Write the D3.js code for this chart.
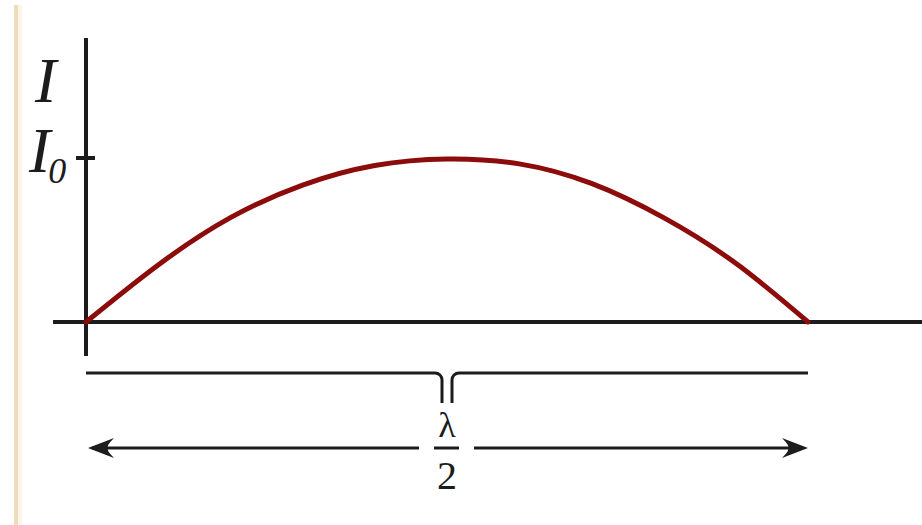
<!DOCTYPE html>
<html>
<head>
<meta charset="utf-8">
<script src="https://cdn.jsdelivr.net/npm/d3@7"></script>
<style>
  html, body { margin: 0; padding: 0; background: #fff; }
  svg { display: block; }
  .serif { font-family: "Liberation Serif", "Times New Roman", "DejaVu Serif", serif; }
</style>
</head>
<body>
<div id="chart"></div>
<script>
// Intensity across half a wavelength
// position as a fraction of λ/2, intensity as a fraction of I0
const positions = [0, 0.1, 0.2, 0.3, 0.4, 0.5, 0.6, 0.7, 0.8, 0.9, 1];
const intensity = [0, 0.35, 0.64, 0.84, 0.96, 1, 0.97, 0.85, 0.64, 0.36, 0];
const yTickValues = [1];
const axisLabel = "I";
const tickLabel = "I";
const tickSub = "0";
const spanTop = "λ";
const spanBottom = "2";

const width = 922;
const height = 525;

const svg = d3.select("#chart")
    .append("svg")
    .attr("width", width)
    .attr("height", height);

// faint tan edge on the left of the scan
svg.append("rect").attr("x", 14).attr("y", 5).attr("width", 4).attr("height", height - 5).attr("fill", "#efdcbc");
svg.append("rect").attr("x", 18).attr("y", 5).attr("width", 4).attr("height", height - 5).attr("fill", "#fbf5ea");

const x = d3.scaleLinear().domain([0, 1]).range([86, 808]);
const y = d3.scaleLinear().domain([0, 1]).range([322, 159]);

const ink = "#1c1c1c";

// x axis (runs to the right edge)
svg.append("line")
    .attr("x1", 53).attr("x2", width)
    .attr("y1", y(0)).attr("y2", y(0))
    .attr("stroke", ink).attr("stroke-width", 4);

// y axis
svg.append("line")
    .attr("x1", x(0)).attr("x2", x(0))
    .attr("y1", 38).attr("y2", 356)
    .attr("stroke", ink).attr("stroke-width", 4);

// I0 tick
yTickValues.forEach(v => {
    svg.append("line")
        .attr("x1", x(0) - 10).attr("x2", x(0) + 9)
        .attr("y1", y(v) - 1).attr("y2", y(v) - 1)
        .attr("stroke", ink).attr("stroke-width", 4);
});

// axis labels
svg.append("text")
    .attr("class", "serif")
    .attr("x", 35).attr("y", 102)
    .attr("font-style", "italic")
    .attr("font-size", 64).attr("fill", ink)
    .text(axisLabel);

const i0 = svg.append("text")
    .attr("class", "serif")
    .attr("x", 29).attr("y", 172)
    .attr("font-style", "italic")
    .attr("font-size", 64).attr("fill", ink);
i0.append("tspan").text(tickLabel);
i0.append("tspan").attr("dx", -2).attr("dy", 11).attr("font-size", 36).text(tickSub);

// intensity curve
const line = d3.line()
    .x((d, i) => x(positions[i]))
    .y(d => y(d))
    .curve(d3.curveNatural);

svg.append("path")
    .attr("d", line(intensity))
    .attr("fill", "none")
    .attr("stroke", "#8c0b0b")
    .attr("stroke-width", 5)
    .attr("stroke-linecap", "round");

// bracket under the axis
const mid = (x(0) + x(1)) / 2;
const bTop = 373, bBot = 403, r = 7;
const bracket = d3.path();
bracket.moveTo(x(0), bTop);
bracket.lineTo(mid - 5 - r, bTop);
bracket.arcTo(mid - 5, bTop, mid - 5, bTop + r, r);
bracket.lineTo(mid - 5, bBot);
bracket.moveTo(mid + 5, bBot);
bracket.lineTo(mid + 5, bTop + r);
bracket.arcTo(mid + 5, bTop, mid + 5 + r, bTop, r);
bracket.lineTo(x(1), bTop);
svg.append("path")
    .attr("d", bracket.toString())
    .attr("fill", "none")
    .attr("stroke", ink)
    .attr("stroke-width", 3);

// double arrow with λ/2 in the gap
const aY = 448;
const head = (tipX, dir) => {
    const p = d3.path();
    p.moveTo(tipX, aY);
    p.lineTo(tipX + dir * 26, aY - 10);
    p.quadraticCurveTo(tipX + dir * 18, aY - 2, tipX + dir * 20, aY);
    p.quadraticCurveTo(tipX + dir * 18, aY + 2, tipX + dir * 26, aY + 10);
    p.closePath();
    return p.toString();
};

svg.append("line")
    .attr("x1", x(0) + 6).attr("x2", mid - 28)
    .attr("y1", aY).attr("y2", aY)
    .attr("stroke", ink).attr("stroke-width", 3);
svg.append("line")
    .attr("x1", mid + 27).attr("x2", x(1) - 6)
    .attr("y1", aY).attr("y2", aY)
    .attr("stroke", ink).attr("stroke-width", 3);
svg.append("path").attr("d", head(x(0) + 2, 1)).attr("fill", ink);
svg.append("path").attr("d", head(x(1), -1)).attr("fill", ink);

svg.append("text")
    .attr("class", "serif")
    .attr("x", mid).attr("y", 437)
    .attr("text-anchor", "middle")
    .attr("font-size", 36).attr("fill", ink)
    .text(spanTop);
svg.append("line")
    .attr("x1", mid - 13).attr("x2", mid + 12)
    .attr("y1", aY).attr("y2", aY)
    .attr("stroke", ink).attr("stroke-width", 3);
svg.append("text")
    .attr("class", "serif")
    .attr("x", mid).attr("y", 489)
    .attr("text-anchor", "middle")
    .attr("font-size", 40).attr("fill", ink)
    .text(spanBottom);
</script>
</body>
</html>
